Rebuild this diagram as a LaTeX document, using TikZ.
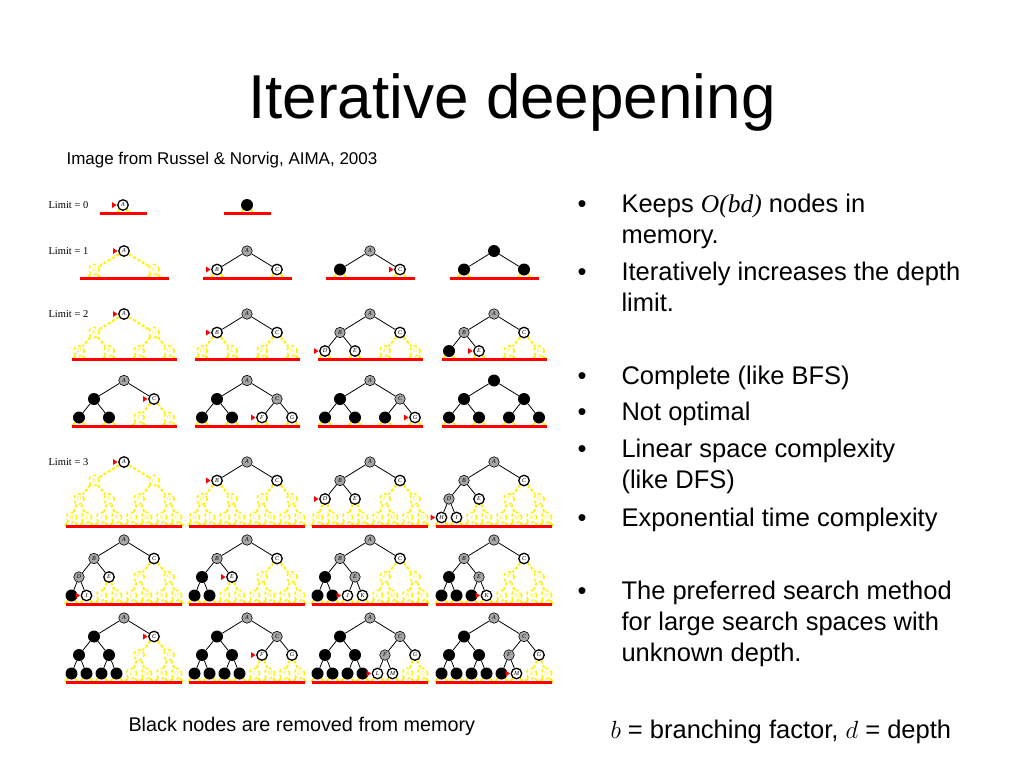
\documentclass[tikz,border=0pt]{standalone}
\usepackage{fontspec}
\setmainfont{Liberation Sans}
\newfontfamily\timesfont{Liberation Serif}

\newcommand\nodeletter[1]{\ifcase#1\or A\or B\or C\or D\or E\or F\or G\or H\or I\or J\or K\or L\or M\or N\or O\fi}

% #1 name, #2 centre x, #3 root y, #4 limit, #5 states (c,f,e,r,u)
\newcommand\idtree[5]{%
  \foreach \s [count=\i] in {#5}{
    \pgfmathtruncatemacro\lv{floor(log2(\i)+0.001)}
    \pgfmathsetmacro\xx{#2+(\i-2^\lv+0.5)*120/2^\lv-60}
    \pgfmathsetmacro\yy{#3+18.5*\lv}
    \node[st\s] (#1-\i) at (\xx,\yy) {\nodeletter{\i}};
    \ifnum\i>1
      \pgfmathtruncatemacro\pa{\i/2}
      \draw[edge\s] (#1-\pa) -- (#1-\i);
    \fi
    \path[mk\s] ([xshift=-0.6pt]#1-\i.west) -- ++(-4.5,-3) -- ++(0,6) -- cycle;
    \ifnum\lv=#4
      \draw[stub] (#1-\i) -- ++(-6.5,8.5);
      \draw[stub] (#1-\i) -- ++(6.5,8.5);
    \fi
  }
  \pgfmathsetmacro\ry{#3+18.5*#4+8.5}
  \edef\hw{\ifcase#4 23.5\or 44.5\or 52.5\or 58\fi}
  \draw[limitline] (#2-\hw,\ry) -- (#2+\hw,\ry);
}

\begin{document}
\begin{tikzpicture}[x=1pt, y=-1pt,
idnode/.style={circle, minimum size=10.5pt, inner sep=0pt,
    font=\timesfont\itshape\fontsize{6}{6}\selectfont},
stc/.style={idnode, draw=black, line width=1.3pt, fill=white},
stf/.style={idnode, draw=black, line width=1.3pt, fill=white},
ste/.style={idnode, draw=black, line width=0.6pt, fill=gray!70},
str/.style={idnode, fill=black, minimum size=12pt},
stu/.style={idnode, draw=yellow, dashed, line width=1.5pt, text=yellow},
edgeu/.style={yellow, line width=2pt, dash pattern=on 3pt off 2pt},
edgec/.style={black, line width=0.8pt},
edgef/.style={edgec}, edgee/.style={edgec}, edger/.style={edgec},
mkc/.style={fill=red}, mkf/.style={}, mke/.style={}, mkr/.style={}, mku/.style={},
stub/.style={yellow, line width=2pt},
limitline/.style={red, line width=3pt},
limlabel/.style={anchor=base west, font=\timesfont\fontsize{10.5}{12}\selectfont},
bul/.style={anchor=base, font=\fontsize{25.5}{31}\selectfont},
item/.style={anchor=base west, align=left, font=\fontsize{25.5}{31}\selectfont}
]
\useasboundingbox (0,0) rectangle (1024,768);

\node[anchor=base, font=\fontsize{62}{62}\selectfont] (title) at (512,118) {Iterative deepening};
\node[anchor=base west, font=\fontsize{17}{20}\selectfont] (src) at (63,164) {Image from Russel \& Norvig, AIMA, 2003};

\node[limlabel] (lim0) at (45,208) {Limit = 0};
\node[limlabel] (lim1) at (45,254) {Limit = 1};
\node[limlabel] (lim2) at (45,317) {Limit = 2};
\node[limlabel] (lim3) at (45,465) {Limit = 3};

\idtree{za}{123}{205}{0}{c}
\idtree{zb}{247}{205}{0}{r}

\idtree{oa}{124}{251}{1}{c,u,u}
\idtree{ob}{247}{251}{1}{e,c,f}
\idtree{oc}{370}{251}{1}{e,r,c}
\idtree{od}{494}{251}{1}{r,r,r}

\idtree{ta}{124}{314}{2}{c,u,u,u,u,u,u}
\idtree{tb}{247}{314}{2}{e,c,f,u,u,u,u}
\idtree{tc}{370}{314}{2}{e,e,f,c,f,u,u}
\idtree{td}{494}{314}{2}{e,e,f,r,c,u,u}
\idtree{te}{124}{380.5}{2}{e,r,c,r,r,u,u}
\idtree{tf}{247}{380.5}{2}{e,r,e,r,r,c,f}
\idtree{tg}{370}{380.5}{2}{e,r,e,r,r,r,c}
\idtree{th}{494}{380.5}{2}{r,r,r,r,r,r,r}

\idtree{ha}{124}{462}{3}{c,u,u,u,u,u,u,u,u,u,u,u,u,u,u}
\idtree{hb}{247}{462}{3}{e,c,f,u,u,u,u,u,u,u,u,u,u,u,u}
\idtree{hc}{370}{462}{3}{e,e,f,c,f,u,u,u,u,u,u,u,u,u,u}
\idtree{hd}{494}{462}{3}{e,e,f,e,f,u,u,c,f,u,u,u,u,u,u}
\idtree{he}{124}{540}{3}{e,e,f,e,f,u,u,r,c,u,u,u,u,u,u}
\idtree{hf}{247}{540}{3}{e,e,f,r,c,u,u,r,r,u,u,u,u,u,u}
\idtree{hg}{370}{540}{3}{e,e,f,r,e,u,u,r,r,c,f,u,u,u,u}
\idtree{hh}{494}{540}{3}{e,e,f,r,e,u,u,r,r,r,c,u,u,u,u}
\idtree{hi}{124}{618}{3}{e,r,c,r,r,u,u,r,r,r,r,u,u,u,u}
\idtree{hj}{247}{618}{3}{e,r,e,r,r,c,f,r,r,r,r,u,u,u,u}
\idtree{hk}{370}{618}{3}{e,r,e,r,r,e,f,r,r,r,r,c,f,u,u}
\idtree{hl}{494}{618}{3}{e,r,e,r,r,e,f,r,r,r,r,r,c,u,u}

\node[anchor=base west, font=\fontsize{19.8}{24}\selectfont] (memo) at (125,731) {Black nodes are removed from memory};

% multi-line items sit on the baseline of their last line
\foreach \n/\y in {1/212, 2/280, 3/384, 4/420, 5/457, 6/526, 7/599}
  \node[bul] (b\n) at (582,\y) {•};
\node[item] (i1) at (618,243) {Keeps {\timesfont\itshape O(bd)} nodes in\\memory.};
\node[item] (i2) at (618,311) {Iteratively increases the depth\\limit.};
\node[item] (i3) at (618,384) {Complete (like BFS)};
\node[item] (i4) at (618,420) {Not optimal};
\node[item] (i5) at (618,488) {Linear space complexity\\(like DFS)};
\node[item] (i6) at (618,526) {Exponential time complexity};
\node[item] (i7) at (618,661) {The preferred search method\\for large search spaces with\\unknown depth.};
\node[anchor=base west, font=\fontsize{25.5}{31}\selectfont] (defs) at (607,738) {$b$ = branching factor, $d$ = depth};

\end{tikzpicture}
\end{document}
